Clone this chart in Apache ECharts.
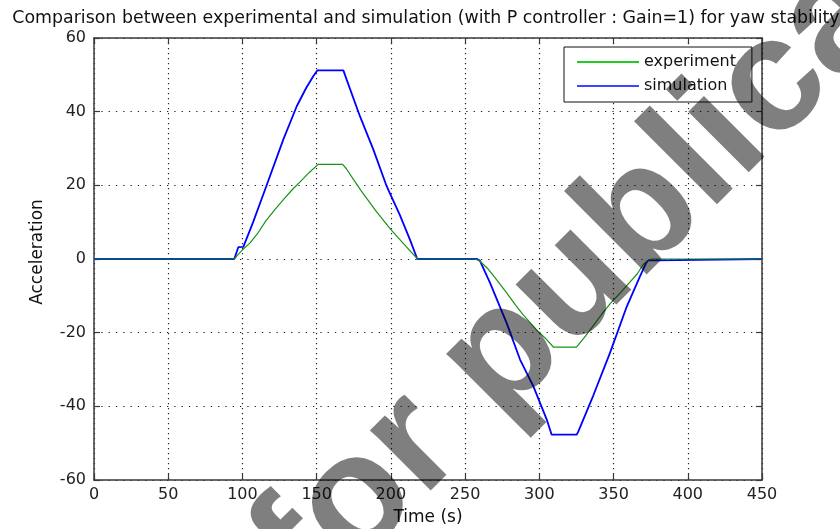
<!DOCTYPE html>
<html><head><meta charset="utf-8">
<script src="https://cdn.jsdelivr.net/npm/echarts@6/dist/echarts.min.js"></script>
<style>html,body{margin:0;padding:0;background:#fff}#c{width:840px;height:529px}</style>
</head><body><div id="c"></div>
<script>
var titleText = 'Comparison between experimental and simulation (with P controller : Gain=1) for yaw stability';
var xName = 'Time (s)';
var yName = 'Acceleration';
var xTicks = {min: 0, max: 450, interval: 50};
var yTicks = {min: -60, max: 60, interval: 20};
var seriesNames = ['experiment', 'simulation'];
var expT = [0, 94.5, 97, 100, 105, 110, 116, 122, 128, 134, 139, 145, 151, 167.5, 170, 175, 180, 190, 200, 210, 218, 257, 260, 265, 270, 278, 284, 289, 298, 304, 309.5, 325, 330, 336, 342, 348, 355, 361, 366, 370, 373, 376, 450];
var expV = [0, 0, 1.2, 2.5, 4.3, 6.8, 10.5, 13.5, 16.3, 19, 21, 23.5, 25.7, 25.7, 24.5, 21.5, 18.5, 13, 8, 3.5, 0, 0, -0.6, -2.5, -5, -9.2, -12.5, -15.1, -19.2, -21.5, -23.9, -23.9, -21.5, -18.3, -15, -12, -9, -6.3, -4, -1.5, -0.4, 0, 0];
var simT = [0, 94.5, 97.2, 100.6, 107, 116, 127.5, 136.5, 143, 147.7, 150.4, 168, 170.2, 179.2, 188.2, 197.2, 206, 212.9, 217.8, 258, 260, 266.8, 278, 287, 296, 305, 308.3, 325.2, 326.3, 336.4, 347.6, 358.9, 367.8, 371.9, 373.4, 379, 380, 450];
var simV = [0, 0, 3.2, 3.3, 9.8, 19.7, 32.4, 41.4, 46.5, 49.6, 51.2, 51.2, 48.7, 38.7, 29.7, 19.7, 12, 5.2, 0, 0, -0.5, -6.5, -17.4, -27.3, -34.6, -43.6, -47.7, -47.7, -46.8, -37, -25.5, -12.9, -4.7, -1.1, -0.4, -0.4, 0, 0];
var watermark = 'for publication';

function pairs(t, v) { return t.map(function (x, i) { return [x, v[i]]; }); }

var FONT = 'DejaVu Sans';
var axisCol = '#3a3a3a';
var chart = echarts.init(document.getElementById('c'), null, {renderer: 'canvas'});
var baseX = {
  type: 'value', min: xTicks.min, max: xTicks.max, interval: xTicks.interval,
  axisLine: {show: true, onZero: false, lineStyle: {color: axisCol, width: 1.5}},
  axisTick: {show: true, inside: true, length: 6, lineStyle: {color: axisCol, width: 1.2}},
  splitLine: {show: false}
};
var baseY = {
  type: 'value', min: yTicks.min, max: yTicks.max, interval: yTicks.interval,
  axisLine: {show: true, onZero: false, lineStyle: {color: axisCol, width: 1.5}},
  axisTick: {show: true, inside: true, length: 6, lineStyle: {color: axisCol, width: 1.2}},
  splitLine: {show: false}
};
var option = {
  animation: false,
  backgroundColor: '#fff',
  grid: {left: 94, right: 78, top: 38, bottom: 49, containLabel: false, outerBoundsMode: 'none'},
  xAxis: [
    Object.assign({}, baseX, {
      position: 'bottom',
      name: xName, nameLocation: 'middle', nameGap: 29,
      nameTextStyle: {fontFamily: FONT, fontSize: 17, color: '#111'},
      axisLabel: {show: true, fontFamily: FONT, fontSize: 16, color: '#222', margin: 7},
      splitLine: {show: true, lineStyle: {color: '#222', width: 1.2, type: [1.3, 3.7]}}
    }),
    Object.assign({}, baseX, {position: 'top', axisLabel: {show: false}})
  ],
  yAxis: [
    Object.assign({}, baseY, {
      position: 'left',
      axisLabel: {show: true, fontFamily: FONT, fontSize: 16, color: '#222', margin: 8},
      splitLine: {show: true, lineStyle: {color: '#222', width: 1.2, type: [1.3, 6]}}
    }),
    Object.assign({}, baseY, {position: 'right', axisLabel: {show: false}})
  ],
  legend: {
    orient: 'vertical', left: 564, top: 47,
    padding: [7, 16, 8, 13],
    backgroundColor: '#fff', borderColor: '#111', borderWidth: 1, borderRadius: 0,
    itemWidth: 62, itemHeight: 2, itemGap: 8, icon: 'rect',
    textStyle: {fontFamily: FONT, fontSize: 16, color: '#111'},
    data: [
      {name: seriesNames[0], itemStyle: {color: '#22cc22'}},
      {name: seriesNames[1], itemStyle: {color: '#4444ff'}}
    ]
  },
  series: [
    {name: seriesNames[0], type: 'line', data: pairs(expT, expV), symbol: 'none',
     lineStyle: {color: '#179317', width: 1.2}, itemStyle: {color: '#179317'}, z: 3},
    {name: seriesNames[1], type: 'line', data: pairs(simT, simV), symbol: 'none',
     lineStyle: {color: '#0000ff', width: 1.8}, itemStyle: {color: '#0000ff'}, z: 2}
  ],
  graphic: [
    {type: 'text', x: 426, y: 19, scaleX: 1.022, silent: true,
     style: {text: titleText, fontFamily: FONT, fontSize: 17, fill: '#111', textAlign: 'center', textVerticalAlign: 'middle'}},
    {type: 'text', x: 38, y: 252, rotation: Math.PI / 2, silent: true,
     style: {text: yName, fontFamily: FONT, fontSize: 17, fill: '#111', textAlign: 'center', textVerticalAlign: 'middle'}},
    {type: 'text', x: 283, y: 575, rotation: Math.PI / 4, silent: true, z: 100,
     style: {text: watermark, fontFamily: 'Liberation Sans', fontWeight: 'bold', fontSize: 162, fill: 'rgba(0,0,0,0.5)', textAlign: 'left', textVerticalAlign: 'middle'}}
  ]
};
chart.setOption(option);
</script>
</body></html>
